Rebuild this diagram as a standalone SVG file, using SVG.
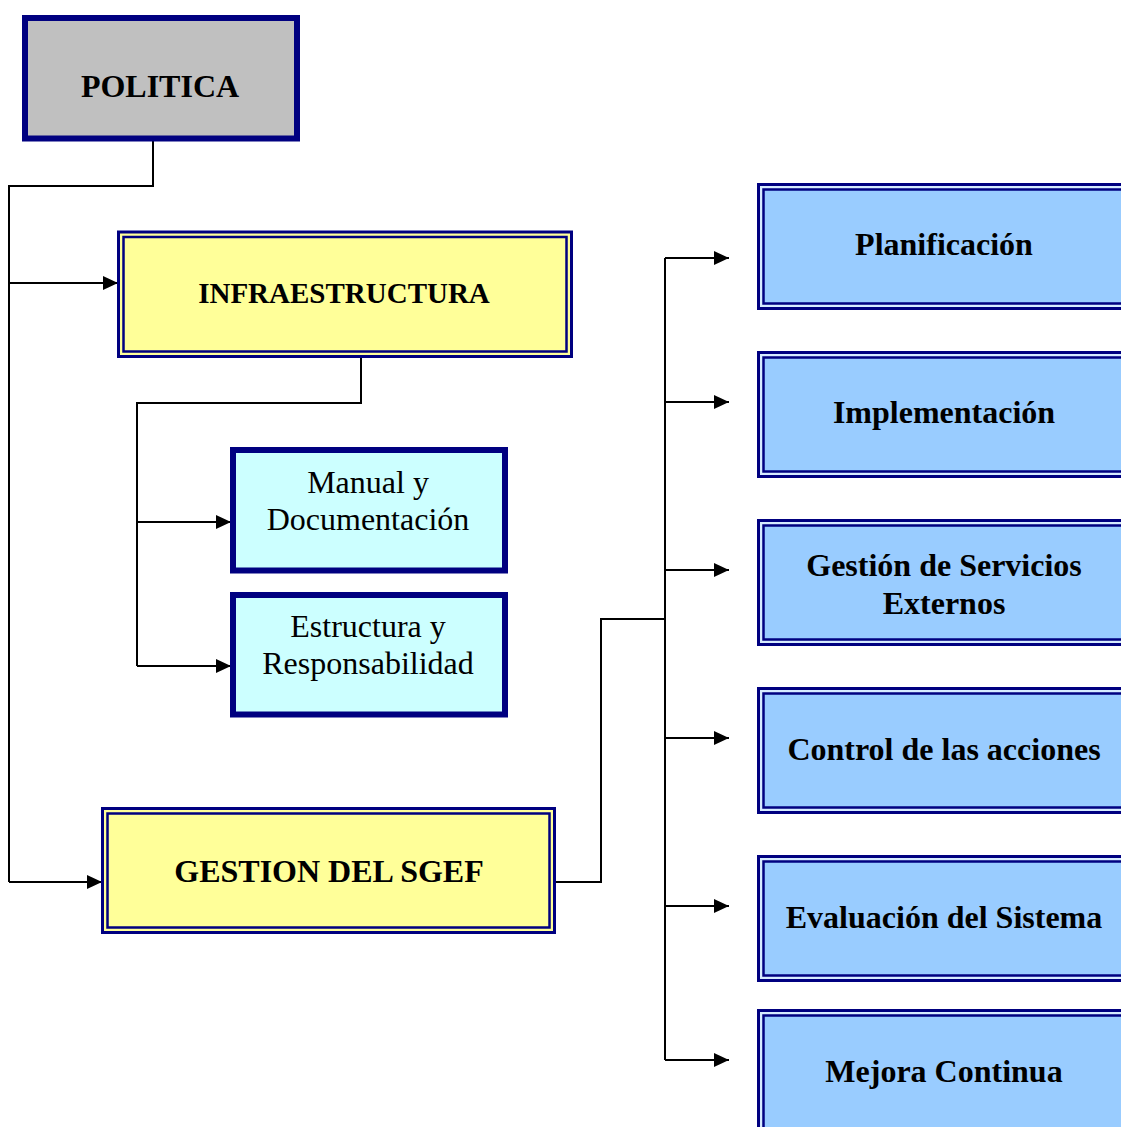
<svg xmlns="http://www.w3.org/2000/svg" width="1121" height="1127" viewBox="0 0 1121 1127">
  <style>
    .wire { fill: none; stroke: #000; stroke-width: 2; }
    .arrow { fill: none; stroke: #000; stroke-width: 2; marker-end: url(#head); }
    .thick { stroke: #000080; stroke-width: 6; }
    .dbl-out { stroke: #000080; stroke-width: 3; }
    .dbl-in { stroke: #000080; stroke-width: 2.5; }
    .bold { font-family: "Liberation Serif", "Times New Roman", serif; font-weight: bold; font-size: 32px; fill: #000; text-anchor: middle; }
    .plain { font-family: "Liberation Serif", "Times New Roman", serif; font-size: 32px; fill: #000; text-anchor: middle; }
  </style>
  <defs>
    <marker id="head" viewBox="0 0 15 14" refX="15" refY="7" markerWidth="15" markerHeight="14" markerUnits="userSpaceOnUse" orient="auto">
      <path d="M0,0 L15,7 L0,14 Z" fill="#000"/>
    </marker>
  </defs>
  <rect width="1121" height="1127" fill="#fff"/>

  <!-- connectors -->
  <g id="connectors">
    <path class="wire" d="M153,141 V186 H9 V882"/>
    <path class="arrow" d="M9,283 H118"/>
    <path class="arrow" d="M9,882 H102"/>
    <path class="wire" d="M361,357 V403 H137 V666"/>
    <path class="arrow" d="M137,522 H231"/>
    <path class="arrow" d="M137,666 H231"/>
    <path class="wire" d="M556,882 H601 V619 H665"/>
    <path class="wire" d="M665,258 V1060"/>
    <path class="arrow" d="M665,258 H729"/>
    <path class="arrow" d="M665,402 H729"/>
    <path class="arrow" d="M665,570 H729"/>
    <path class="arrow" d="M665,738 H729"/>
    <path class="arrow" d="M665,906 H729"/>
    <path class="arrow" d="M665,1060 H729"/>
  </g>

  <g id="politica">
    <rect class="thick" x="25" y="18" width="272" height="120.5" fill="#c0c0c0"/>
    <text class="bold" x="160" y="97">POLITICA</text>
  </g>

  <g id="infraestructura">
    <rect class="dbl-out" x="118.5" y="232" width="453" height="124.5" fill="#ffff99"/>
    <rect class="dbl-in" x="123.5" y="237" width="443" height="114.5" fill="#ffff99"/>
    <text class="bold" x="344" y="303" style="font-size:29px">INFRAESTRUCTURA</text>
  </g>

  <g id="manual">
    <rect class="thick" x="233" y="450" width="272" height="120.5" fill="#ccffff"/>
    <text class="plain" x="368" y="493">Manual y</text>
    <text class="plain" x="368" y="530">Documentación</text>
  </g>

  <g id="estructura">
    <rect class="thick" x="233" y="595" width="272" height="119.5" fill="#ccffff"/>
    <text class="plain" x="368" y="637">Estructura y</text>
    <text class="plain" x="368" y="674">Responsabilidad</text>
  </g>

  <g id="gestion">
    <rect class="dbl-out" x="102.5" y="808.5" width="452" height="124" fill="#ffff99"/>
    <rect class="dbl-in" x="107.5" y="813.5" width="442" height="114" fill="#ffff99"/>
    <text class="bold" x="329" y="882">GESTION DEL SGEF</text>
  </g>

  <g id="planificacion">
    <rect class="dbl-out" x="758.5" y="184.5" width="380" height="124" fill="#d6ebff"/>
    <rect class="dbl-in" x="763.5" y="189.5" width="370" height="114" fill="#99ccff"/>
    <text class="bold" x="944" y="255">Planificación</text>
  </g>

  <g id="implementacion">
    <rect class="dbl-out" x="758.5" y="352.5" width="380" height="124" fill="#d6ebff"/>
    <rect class="dbl-in" x="763.5" y="357.5" width="370" height="114" fill="#99ccff"/>
    <text class="bold" x="944" y="423">Implementación</text>
  </g>

  <g id="servicios">
    <rect class="dbl-out" x="758.5" y="520.5" width="380" height="124" fill="#d6ebff"/>
    <rect class="dbl-in" x="763.5" y="525.5" width="370" height="114" fill="#99ccff"/>
    <text class="bold" x="944" y="576">Gestión de Servicios</text>
    <text class="bold" x="944" y="614">Externos</text>
  </g>

  <g id="control">
    <rect class="dbl-out" x="758.5" y="688.5" width="380" height="124" fill="#d6ebff"/>
    <rect class="dbl-in" x="763.5" y="693.5" width="370" height="114" fill="#99ccff"/>
    <text class="bold" x="944" y="760">Control de las acciones</text>
  </g>

  <g id="evaluacion">
    <rect class="dbl-out" x="758.5" y="856.5" width="380" height="124" fill="#d6ebff"/>
    <rect class="dbl-in" x="763.5" y="861.5" width="370" height="114" fill="#99ccff"/>
    <text class="bold" x="944" y="928">Evaluación del Sistema</text>
  </g>

  <g id="mejora">
    <rect class="dbl-out" x="758.5" y="1010.5" width="380" height="124" fill="#d6ebff"/>
    <rect class="dbl-in" x="763.5" y="1015.5" width="370" height="114" fill="#99ccff"/>
    <text class="bold" x="944" y="1082">Mejora Continua</text>
  </g>
</svg>
